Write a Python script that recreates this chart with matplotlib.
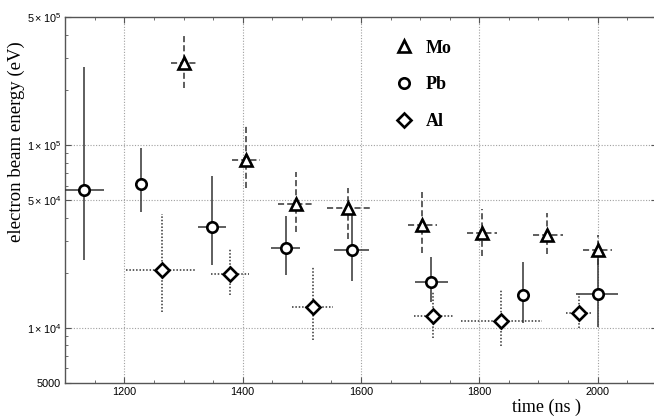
import numpy as np
import matplotlib
matplotlib.use("Agg")
import matplotlib.pyplot as plt
from matplotlib.ticker import FixedLocator, FixedFormatter, LogLocator, NullFormatter, MultipleLocator

plt.rcParams['mathtext.fontset'] = 'custom'
plt.rcParams['mathtext.rm'] = 'Liberation Sans'
plt.rcParams['mathtext.it'] = 'Liberation Sans'

# Mo (triangles, dashed bars)
mo_t = [1301, 1405, 1490, 1578, 1703, 1805, 1915, 2000]
mo_t_lo = [1279, 1382, 1459, 1542, 1680, 1780, 1890, 1975]
mo_t_hi = [1325, 1430, 1520, 1615, 1728, 1830, 1941, 2024]
mo_e = [2.82e5, 8.3e4, 4.75e4, 4.5e4, 3.65e4, 3.3e4, 3.22e4, 2.66e4]
mo_e_lo = [2.04e5, 5.8e4, 3.35e4, 3.05e4, 2.55e4, 2.47e4, 2.52e4, 2.2e4]
mo_e_hi = [4.05e5, 1.27e5, 7.15e4, 5.8e4, 5.55e4, 4.45e4, 4.23e4, 3.21e4]

# Pb (circles, solid bars)
pb_t = [1132, 1228, 1348, 1473, 1584, 1718, 1873, 2000]
pb_t_lo = [1098, 1228, 1325, 1448, 1555, 1692, 1866, 1964]
pb_t_hi = [1166, 1228, 1371, 1497, 1614, 1747, 1880, 2035]
pb_e = [5.65e4, 6.15e4, 3.57e4, 2.73e4, 2.66e4, 1.79e4, 1.51e4, 1.52e4]
pb_e_lo = [2.35e4, 4.3e4, 2.2e4, 1.94e4, 1.8e4, 1.39e4, 1.06e4, 1.01e4]
pb_e_hi = [2.66e5, 9.6e4, 6.76e4, 4.08e4, 4.3e4, 2.43e4, 2.3e4, 2.66e4]

# Al (diamonds, dotted bars)
al_t = [1263, 1379, 1519, 1722, 1837, 1969]
al_t_lo = [1203, 1346, 1484, 1690, 1769, 1947]
al_t_hi = [1321, 1410, 1553, 1755, 1906, 1989]
al_e = [2.06e4, 1.97e4, 1.29e4, 1.16e4, 1.09e4, 1.21e4]
al_e_lo = [1.22e4, 1.51e4, 8.6e3, 8.75e3, 7.95e3, 1.0e4]
al_e_hi = [4.18e4, 2.69e4, 2.16e4, 1.56e4, 1.61e4, 1.53e4]

ytick_vals = [5000, 1e4, 5e4, 1e5, 5e5]
ytick_labels = ['5000', r'$1\times10^{4}$', r'$5\times10^{4}$', r'$1\times10^{5}$', r'$5\times10^{5}$']
xtick_vals = [1200, 1400, 1600, 1800, 2000]

fig = plt.figure(figsize=(6.54, 4.18), dpi=100)
ax = fig.add_axes([65.2/654, 35.3/418, 591.6/654, 365.4/418])
ax.set_yscale('log')
ax.set_xlim(1100, 2100)
ax.set_ylim(5000, 5e5)

# grid
for v in xtick_vals:
    ax.axvline(v, color='#a0a0a0', lw=0.8, ls=(0, (1, 1.5)), zorder=0)
for v in [1e4, 5e4, 1e5]:
    ax.axhline(v, color='#a0a0a0', lw=0.8, ls=(0, (1, 1.5)), zorder=0)

def series(t, tlo, thi, e, elo, ehi, marker, ms, ls):
    t = np.array(t, float); e = np.array(e, float)
    xerr = [t - np.array(tlo), np.array(thi) - t]
    yerr = [e - np.array(elo), np.array(ehi) - e]
    eb = ax.errorbar(t, e, xerr=xerr, yerr=yerr, fmt=marker, ms=ms, mfc='white',
                     mec='black', mew=1.9, ecolor='#333333', elinewidth=1.1,
                     capsize=0, zorder=3)
    for c in eb[2]:
        c.set_linestyle(ls)
    return eb

eb_mo = series(mo_t, mo_t_lo, mo_t_hi, mo_e, mo_e_lo, mo_e_hi, '^', 8.5, (0, (4, 2)))
eb_pb = series(pb_t, pb_t_lo, pb_t_hi, pb_e, pb_e_lo, pb_e_hi, 'o', 7.5, '-')
eb_al = series(al_t, al_t_lo, al_t_hi, al_e, al_e_lo, al_e_hi, 'D', 6.8, (0, (1, 1.2)))

ax.yaxis.set_major_locator(FixedLocator(ytick_vals))
ax.yaxis.set_major_formatter(FixedFormatter(ytick_labels))
ax.yaxis.set_minor_locator(LogLocator(base=10, subs=range(2, 10)))
ax.yaxis.set_minor_formatter(NullFormatter())
ax.xaxis.set_major_locator(FixedLocator(xtick_vals))
ax.xaxis.set_minor_locator(MultipleLocator(50))

ax.tick_params(which='both', direction='in', top=True, right=True, color='#555555')
ax.tick_params(which='major', length=4, labelsize=7.8, pad=3)
ax.tick_params(which='minor', length=2.5)
for lab in ax.get_xticklabels() + ax.get_yticklabels():
    lab.set_fontfamily('Liberation Sans')
for s in ax.spines.values():
    s.set_color('#555555')
    s.set_linewidth(1.0)

ax.set_ylabel('electron beam energy (eV)', family='Liberation Serif', fontsize=13.5)
ax.yaxis.set_label_coords(-0.068, 0.66)
ax.set_xlabel('time (ns )', family='Liberation Serif', fontsize=13)
ax.xaxis.set_label_coords(0.814, -0.045)

ax.legend([eb_mo[0], eb_pb[0], eb_al[0]], ['Mo', 'Pb', 'Al'], loc='upper left',
          bbox_to_anchor=(0.554, 0.939), frameon=False, numpoints=1,
          handlelength=1.2, handletextpad=0.6, labelspacing=1.1,
          borderpad=0, borderaxespad=0,
          prop={'family': 'Liberation Serif', 'weight': 'bold', 'size': 13})

fig.savefig('out.png', dpi=100)
